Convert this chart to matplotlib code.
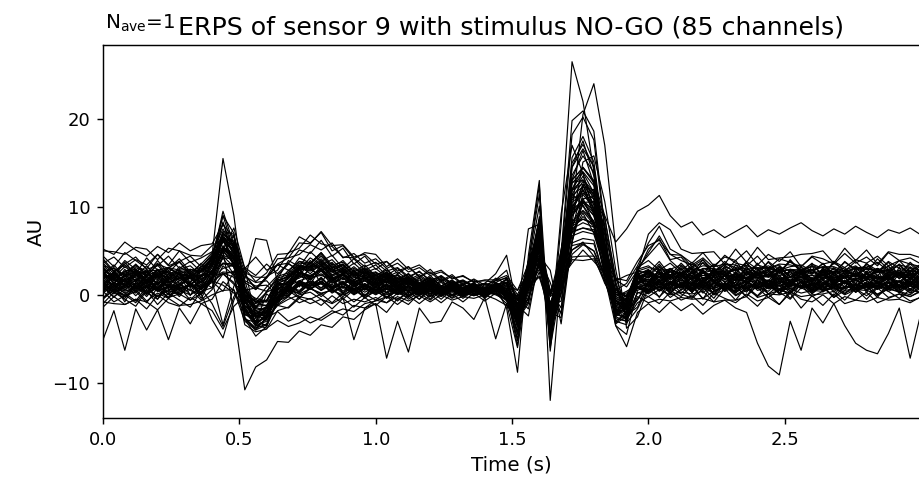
import matplotlib.pyplot as plt
import numpy as np

# sample times (s), one sample every 40 ms
times = np.linspace(0.0, 3.0, 76)

title = 'ERPS of sensor 9 with stimulus NO-GO (85 channels)'
nave = 1

# channel traces (AU), estimated from the figure
# each row: 0.00-0.36 | 0.40-0.96 | 1.00-1.96 | 2.00-3.00
ch01 = [0.6, 2.3, 1.1, 2.7, 1.4, 0.4, 1.9, 2.5, 0.8, 1.6,
        3.1, 6.4, 3.5, -1.3, -2.1, -1.8, 1.2, 0.6, 2.9, 1.7, 3.4, 2.0, 1.1, 2.8, 0.9,
        2.3, 0.7, 1.9, 1.6, 0.2, 1.8, 0.6, 1.3, 0.4, 1.0, 0.3, 1.1, 0.2, -2.4, 2.7, 5.6, -3.4, 3.6, 9.4, 12.5, 9.1, 5.6, -1.9, -0.3, 2.4,
        1.1, 2.9, 1.4, 2.4, 0.6, 2.8, 1.5, 0.9, 2.6, 1.8, 3.1, 1.0, 2.2, 0.7, 2.5, 1.6, 2.9, 1.2, 2.0, 0.8, 2.7, 1.4, 2.3, 1.1, 2.8, 1.5]
ch02 = [-0.4, 1.1, 0.2, -0.7, 0.9, 0.5, -0.3, 1.3, 0.0, 0.7,
        1.4, 2.5, 2.0, -1.9, -2.2, -1.3, -0.2, 1.1, 0.3, 1.4, 0.5, 1.6, 0.2, 1.2, -0.1,
        1.0, -0.3, 0.8, 0.4, -0.5, 0.9, 0.1, 0.6, -0.2, 0.5, 0.2, 0.6, 0.0, -1.1, 0.6, 3.3, -1.8, 0.9, 5.1, 6.0, 4.4, 2.4, -0.7, -1.1, 0.9,
        0.2, 1.4, 0.5, -0.2, 1.1, 0.8, -0.4, 1.3, 0.3, 0.9, -0.1, 1.2, 0.6, 0.1, 1.5, 0.4, 0.9, -0.3, 1.0, 0.6, 1.4, 0.0, 0.8, 1.1, 0.2, 0.7]
ch03 = [3.6, 2.4, 3.9, 2.9, 2.1, 3.5, 3.0, 4.1, 2.6, 3.2,
        4.6, 8.1, 5.3, 0.4, -1.5, 0.3, 2.1, 2.5, 4.2, 3.6, 4.8, 3.1, 3.9, 2.6, 3.4,
        2.1, 3.0, 1.6, 2.4, 1.2, 2.2, 1.0, 1.7, 0.8, 1.3, 0.7, 1.2, 1.4, -2.8, 3.0, 8.6, -3.5, 4.8, 13.1, 16.4, 12.6, 6.8, -1.2, -0.9, 3.1,
        4.5, 5.9, 3.9, 2.8, 3.7, 2.4, 3.5, 2.6, 3.9, 2.2, 3.4, 3.0, 2.5, 3.8, 2.7, 3.3, 2.3, 3.6, 2.9, 2.1, 3.5, 2.8, 3.2, 2.4, 3.7, 2.6]
ch04 = [1.4, 0.3, 1.0, 1.6, 0.2, 0.8, 1.5, 0.5, 1.2, 0.1,
        1.6, 2.4, 1.2, 0.4, -0.9, 0.3, 0.9, -0.1, 1.5, 0.7, 1.6, 0.6, 1.3, 0.2, 1.1,
        0.5, 1.3, 0.2, 1.0, 0.4, 0.9, 0.1, 0.6, 0.3, 0.7, 0.2, 0.5, 0.8, -0.6, 1.3, 2.1, -0.9, 1.9, 3.6, 5.1, 3.8, 2.4, -0.2, 0.4, 1.2,
        0.6, 1.5, 0.3, 1.2, 0.8, 1.7, 0.5, 1.0, 0.2, 1.4, 0.9, 0.4, 1.6, 0.7, 1.1, 0.3, 1.3, 0.8, 0.1, 1.2, 0.6, 1.5, 0.4, 1.0, 1.3, 0.5]
ch05 = [4.4, 3.2, 4.8, 3.9, 3.0, 4.6, 3.4, 5.0, 3.7, 4.2,
        4.9, 6.5, 6.0, 1.4, 0.6, 1.9, 3.4, 3.6, 5.1, 4.7, 6.2, 4.4, 5.3, 3.5, 4.4,
        2.9, 3.8, 2.4, 3.2, 2.0, 2.9, 1.6, 2.3, 1.2, 1.8, 1.1, 1.6, 1.9, -0.6, 3.0, 6.2, -1.3, 4.4, 9.6, 12.0, 9.3, 5.9, 0.5, 1.3, 3.3,
        5.9, 7.8, 5.2, 4.5, 3.6, 4.8, 3.3, 4.3, 3.9, 5.0, 3.4, 4.6, 3.8, 4.9, 3.2, 4.4, 4.1, 3.5, 4.7, 3.6, 4.3, 3.3, 4.8, 3.9, 4.2, 3.5]
ch06 = [2.6, 1.3, 2.2, 1.7, 2.9, 1.1, 2.4, 2.0, 1.4, 2.8,
        4.2, 9.0, 5.1, -2.6, -3.8, -2.7, 0.6, 1.4, 3.3, 2.4, 3.6, 2.2, 2.9, 1.7, 2.6,
        1.3, 2.4, 1.0, 1.9, 0.8, 1.6, 0.6, 1.2, 1.0, 0.5, 0.8, 1.0, 0.4, -3.2, 3.0, 6.5, -4.2, 2.8, 11.9, 12.6, 11.5, 4.4, -2.2, -0.6, 1.3,
        2.8, 1.4, 2.3, 1.9, 3.0, 1.3, 2.6, 2.2, 1.6, 3.1, 1.8, 2.4, 1.2, 2.9, 2.0, 1.5, 2.7, 2.3, 1.4, 2.5, 1.7, 3.0, 1.9, 2.2, 1.3, 2.6]
ch07 = [0.4, -0.8, -0.1, 0.6, -0.7, 0.2, -0.4, 0.9, -0.6, 0.1,
        -2.8, -4.9, -0.6, 2.1, 1.4, 1.6, 0.2, 0.9, -0.3, 0.7, 0.1, 0.6, -0.2, 0.8, -0.4,
        0.6, -0.4, 0.5, -0.2, 0.7, -0.1, 0.4, 0.0, 0.5, -0.1, 0.3, 0.2, -0.5, -3.1, -0.3, 3.6, -2.8, 0.3, 5.9, 6.4, 6.2, 1.8, -2.4, -1.2, 0.8,
        0.1, 1.0, -0.3, 0.6, 0.9, -0.4, 0.4, 1.1, 0.0, 0.7, -0.2, 0.9, 0.3, -0.5, 0.8, 0.2, 1.0, -0.3, 0.5, 0.7, -0.1, 0.9, 0.4, -0.4, 0.6, 0.2]
ch08 = [3.0, 1.9, 2.6, 3.4, 2.1, 2.8, 1.7, 3.2, 2.4, 2.0,
        3.6, 7.2, 6.9, 1.6, -2.4, -2.3, 0.2, 1.2, 3.1, 3.2, 4.4, 3.0, 3.5, 2.2, 2.8,
        1.7, 2.6, 1.4, 2.0, 1.0, 1.7, 0.6, 1.3, 0.5, 1.0, 0.3, 1.0, 1.4, -0.4, -1.6, 4.1, 1.4, -2.2, 6.0, 10.9, 11.2, 8.6, 2.0, -1.6, 1.2,
        2.6, 1.7, 3.0, 2.1, 2.5, 1.5, 2.9, 2.3, 1.9, 2.8, 1.6, 2.4, 3.1, 2.0, 2.7, 1.8, 2.5, 2.9, 1.9, 2.2, 3.0, 1.7, 2.6, 2.3, 2.0, 2.8]
ch09 = [0.9, -0.2, 0.6, 1.4, 0.1, 0.8, -0.3, 1.2, 0.5, 0.0,
        2.1, 5.0, 3.5, -2.2, -3.0, -2.7, -0.2, 0.2, 1.6, 1.0, 1.5, 0.7, 1.4, 0.3, 1.2,
        0.2, 1.2, 0.1, 1.1, 0.0, 0.9, 0.0, 0.8, 0.2, 0.6, 0.0, 0.6, -0.3, -5.0, 2.3, 8.5, -5.6, 3.1, 15.6, 18.0, 15.1, 5.9, -3.2, -2.0, 1.2,
        1.8, 0.5, 1.3, 1.9, 0.6, 1.2, 1.7, 0.4, 1.5, 2.0, 0.9, 1.6, 0.7, 1.3, 1.8, 0.6, 1.4, 1.1, 0.5, 1.7, 1.0, 1.3, 1.9, 0.8, 1.6, 0.7]
ch10 = [1.0, 2.6, 1.5, 0.7, 2.2, 1.9, 0.9, 2.4, 1.2, 2.1,
        2.8, 4.5, 4.0, -0.4, -1.3, -1.2, 1.2, 1.1, 2.4, 2.2, 2.8, 1.7, 2.3, 1.3, 1.9,
        1.2, 1.8, 1.0, 1.5, 0.6, 1.3, 0.4, 1.1, 0.3, 0.9, 0.2, 0.9, 0.3, -1.6, 2.2, 4.5, -1.8, 2.7, 7.1, 9.3, 7.0, 4.0, -1.0, 0.0, 1.9,
        1.5, 2.6, 1.2, 2.4, 1.0, 2.8, 1.4, 2.3, 1.1, 2.6, 1.3, 2.7, 1.5, 1.0, 2.4, 1.4, 2.6, 1.2, 2.3, 1.3, 2.5, 1.1, 2.2, 2.6, 1.2, 2.3]
ch11 = [4.1, 2.7, 3.5, 4.3, 2.9, 3.3, 4.4, 3.0, 3.8, 2.6,
        4.0, 5.4, 4.0, 2.4, 0.6, 2.1, 2.8, 4.8, 5.3, 6.8, 5.8, 5.5, 4.3, 4.2, 3.2,
        3.7, 2.7, 3.1, 2.1, 2.6, 1.7, 2.1, 1.3, 1.6, 1.0, 1.3, 1.0, 1.8, -0.3, 2.4, 4.2, -0.1, 2.4, 7.2, 7.6, 7.4, 4.1, 1.7, 0.9, 2.8,
        4.8, 6.7, 4.6, 4.5, 3.2, 3.6, 2.5, 3.8, 2.7, 3.6, 2.3, 3.8, 2.8, 3.2, 3.4, 2.7, 3.5, 2.4, 3.8, 2.8, 3.1, 3.7, 2.7, 3.9, 2.6, 3.5]
ch12 = [1.5, 0.5, 1.8, 0.9, 0.2, 1.7, 0.8, 1.2, 2.0, 0.6,
        2.6, 6.1, 4.3, -2.0, -3.2, -2.5, 0.2, 0.7, 2.1, 1.7, 2.7, 1.4, 2.0, 1.0, 1.6,
        0.9, 1.5, 0.6, 1.3, 0.4, 1.1, 0.3, 0.9, 0.2, 0.7, 0.1, 0.9, 0.1, -3.5, 2.4, 7.2, -3.7, 2.4, 12.7, 14.0, 12.4, 4.9, -2.3, -1.3, 1.4,
        2.1, 0.8, 1.5, 1.0, 2.5, 1.1, 0.9, 2.2, 0.7, 1.2, 2.4, 0.9, 1.3, 1.8, 1.5, 0.8, 2.0, 1.4, 0.9, 1.9, 1.6, 1.0, 2.1, 0.7, 2.0, 0.9]
ch13 = [2.7, 1.4, 2.2, 2.5, 1.3, 2.9, 1.6, 2.4, 1.5, 2.8,
        3.7, 6.2, 4.8, -0.1, -1.6, -1.6, 1.3, 1.8, 3.2, 2.9, 3.8, 2.6, 3.0, 2.0, 2.5,
        1.6, 2.2, 1.3, 1.9, 1.0, 1.6, 0.7, 1.3, 0.5, 1.1, 0.4, 1.7, 2.8, -1.3, 3.9, 5.5, -2.0, 5.2, 11.5, 10.1, 8.0, 2.4, -1.0, -0.9, 2.3,
        2.9, 1.6, 2.3, 2.6, 1.8, 2.8, 1.7, 3.0, 1.9, 2.4, 2.1, 2.9, 1.8, 2.3, 2.8, 1.7, 3.0, 1.9, 2.5, 2.4, 2.1, 2.6, 2.4, 2.8, 1.7, 3.0]
ch14 = [-0.4, 0.6, 0.0, -0.9, 0.6, -0.2, 0.5, 0.1, -0.6, 0.7,
        -1.0, -3.6, -0.2, 1.6, 1.0, 1.1, 0.0, 0.6, 0.1, 0.7, 0.2, 0.5, 0.0, 0.6, -0.1,
        0.6, 0.0, 0.5, -0.1, 0.6, 0.4, -0.2, 0.5, -0.1, 0.5, -0.2, 0.7, 0.2, -2.0, 1.0, 2.0, -1.8, 0.7, 4.3, 4.4, 4.4, 1.3, -0.7, -1.4, 0.8,
        0.3, 0.9, 0.5, 1.0, -0.3, 1.2, 0.0, 0.6, 1.0, -0.2, 1.1, 0.1, 0.5, 0.7, 0.2, 0.5, 0.4, 0.8, 0.3, 0.6, 0.5, 0.1, 0.7, 0.4, 0.0, 1.0]
ch15 = [1.8, 0.6, 2.2, 0.8, 2.0, 0.5, 1.9, 0.9, 2.1, 0.7,
        4.0, 9.5, 5.7, -2.7, -4.7, -3.6, -0.4, 0.9, 2.5, 2.2, 2.8, 1.6, 2.2, 1.1, 1.7,
        1.0, 1.6, 0.7, 1.4, 0.5, 1.2, 0.3, 1.1, 0.2, 0.9, 0.0, 1.0, 0.1, -3.0, 1.8, 6.2, -2.9, 3.0, 9.8, 12.5, 9.6, 4.7, -2.2, -0.9, 1.6,
        1.2, 2.4, 0.9, 2.2, 1.1, 2.6, 1.3, 1.0, 2.3, 1.2, 2.5, 0.9, 2.2, 1.1, 2.4, 1.3, 1.0, 2.3, 1.2, 2.6, 1.1, 2.2, 0.9, 2.4, 1.3, 1.1]
ch16 = [3.2, 1.8, 2.7, 2.9, 1.6, 2.4, 3.1, 2.8, 2.0, 3.0,
        4.2, 7.1, 5.6, 0.0, -2.0, -1.5, 1.5, 2.1, 3.6, 3.5, 4.6, 3.1, 3.5, 2.3, 2.9,
        1.9, 2.5, 1.5, 2.1, 1.1, 1.7, 0.8, 1.4, 0.5, 1.2, 0.3, 1.3, 0.4, -3.7, 2.8, 8.4, -4.3, 3.2, 14.5, 16.6, 14.6, 5.8, -1.6, -2.3, 2.0,
        2.2, 3.5, 1.9, 3.3, 2.1, 3.7, 2.3, 1.8, 3.4, 2.2, 3.6, 2.0, 3.2, 2.7, 2.9, 2.5, 2.7, 2.6, 3.1, 2.0, 3.6, 2.2, 3.3, 1.8, 3.2, 2.1]
ch17 = [1.1, 0.3, 0.8, 1.7, 0.2, 1.4, 0.6, 0.7, 1.2, 0.8,
        1.8, 4.2, 4.1, -0.6, -2.2, -2.3, -0.3, 0.0, 1.3, 0.9, 1.9, 0.7, 1.3, 0.4, 1.0,
        0.4, 1.0, 0.3, 0.9, 0.2, 0.8, 0.1, 0.7, 0.0, 0.7, -0.1, 0.8, -0.2, -1.5, -0.8, 5.4, -1.0, -2.0, 6.0, 10.5, 10.6, 7.9, 1.2, -1.9, -0.6,
        1.4, 0.6, 1.2, 0.8, 1.0, 0.9, 1.3, 1.1, 1.1, 0.7, 1.2, 1.0, 1.4, 0.2, 1.6, 0.5, 1.7, 0.3, 1.5, 1.0, 1.2, 0.6, 1.7, 0.3, 1.6, 0.5]
ch18 = [2.3, 1.0, 1.8, 2.0, 0.8, 2.2, 1.4, 1.9, 1.1, 2.1,
        2.7, 3.6, 3.5, 0.3, -0.4, -0.7, 1.3, 1.2, 2.5, 2.0, 3.0, 1.8, 2.4, 1.4, 2.0,
        1.1, 1.8, 0.9, 1.6, 0.6, 1.4, 0.4, 1.2, 0.3, 1.0, 0.2, 1.2, 0.3, -1.4, 2.0, 3.8, -1.0, 1.9, 7.1, 7.6, 7.2, 3.0, 0.1, -0.6, 1.9,
        2.4, 1.2, 1.9, 2.2, 1.1, 2.5, 1.5, 2.3, 2.1, 1.8, 2.0, 1.6, 2.9, 1.4, 1.8, 1.7, 2.3, 1.9, 2.1, 1.6, 2.0, 1.8, 2.2, 2.0, 2.3, 1.3]
ch19 = [5.0, 4.9, 4.6, 5.4, 5.2, 4.0, 5.3, 5.0, 4.5, 4.4,
        5.6, 6.4, 6.2, 2.5, 2.0, 2.0, 4.1, 4.2, 5.9, 5.8, 7.2, 5.6, 5.7, 4.3, 4.6,
        3.5, 3.8, 2.7, 3.2, 2.1, 2.6, 1.5, 2.1, 1.1, 1.7, 0.8, 1.9, 1.2, 0.5, 2.5, 5.8, -0.1, 4.2, 8.2, 10.2, 8.3, 5.7, 1.6, 2.2, 2.6,
        6.9, 8.2, 7.4, 5.2, 4.7, 4.8, 4.9, 3.5, 5.2, 3.7, 5.4, 4.0, 4.2, 4.3, 4.6, 4.7, 5.0, 3.6, 5.3, 3.9, 5.1, 3.5, 4.9, 4.6, 4.6, 4.2]
ch20 = [-1.0, 0.3, -0.5, -1.3, 0.5, -1.1, 0.2, -0.6, -1.4, 0.4,
        0.8, 3.3, 2.2, -3.4, -4.2, -3.9, -1.8, -1.4, -0.2, -0.5, 0.1, -0.9, 0.2, -0.8, 0.1,
        -0.6, 0.3, -0.7, 0.4, -0.5, 0.5, -0.5, 0.6, -0.4, 0.5, -0.4, 0.6, -0.7, -3.0, 0.5, 6.2, -4.4, 1.5, 9.7, 10.7, 9.6, 3.5, -2.2, -2.7, 0.3,
        -0.2, 0.6, 0.0, 0.3, 0.1, 0.4, -0.8, 0.7, -0.6, 1.0, -0.3, 0.1, 0.0, 0.3, -0.2, 0.0, 0.1, 0.4, -0.6, 0.7, -0.5, 0.8, -0.3, 0.1, -0.2, 0.4]
ch21 = [2.4, 1.6, 2.1, 2.7, 1.5, 2.2, 2.0, 1.8, 2.8, 1.4,
        3.4, 6.9, 5.7, -0.8, -2.6, -2.0, 1.0, 1.5, 3.0, 2.7, 3.3, 2.1, 2.7, 1.7, 2.3,
        1.4, 2.1, 1.1, 1.8, 0.8, 1.5, 0.6, 1.3, 0.4, 1.1, 0.2, 1.1, 0.4, -0.5, 1.1, 4.3, -1.0, 1.8, 6.7, 7.2, 6.9, 2.9, 0.3, -0.2, 2.0,
        2.6, 1.4, 2.9, 1.6, 2.7, 1.3, 3.0, 1.7, 2.3, 2.0, 2.6, 1.3, 2.9, 1.6, 2.7, 1.4, 3.0, 1.7, 2.3, 2.0, 2.4, 1.8, 2.2, 2.1, 2.5, 1.9]
ch22 = [1.5, 0.2, 1.7, 0.4, 1.8, 0.5, 0.9, 0.8, 1.1, 0.6,
        1.9, 2.6, 2.5, -0.6, -1.0, -1.2, 0.7, 0.4, 1.6, 1.1, 1.8, 0.9, 1.5, 0.6, 1.3,
        0.6, 1.2, 0.5, 1.1, 0.2, 1.0, 0.1, 0.9, 0.0, 0.8, -0.1, 0.9, -0.1, -4.3, 2.6, 7.8, -4.9, 3.5, 15.0, 17.1, 14.5, 5.7, -2.1, -2.6, 1.3,
        0.9, 2.1, 0.7, 1.9, 0.5, 2.0, 0.8, 2.2, 0.6, 1.8, 1.3, 1.5, 1.1, 1.2, 0.9, 2.0, 0.6, 1.8, 1.4, 1.6, 1.1, 1.3, 1.0, 1.5, 1.2, 1.6]
ch23 = [2.6, 2.3, 2.4, 2.1, 3.3, 1.9, 3.0, 2.3, 2.0, 3.2,
        3.6, 5.4, 4.7, 0.4, -0.8, -0.8, 1.7, 2.0, 3.4, 3.1, 4.1, 2.8, 3.3, 2.2, 2.7,
        1.8, 2.4, 1.4, 2.0, 1.1, 1.7, 0.8, 1.4, 0.5, 1.2, 0.3, 1.3, 0.6, -2.5, 3.0, 6.5, -2.6, 3.2, 11.9, 13.1, 11.7, 4.8, -0.4, -1.0, 2.6,
        5.2, 6.4, 4.0, 4.3, 2.8, 3.3, 3.2, 3.5, 3.4, 2.9, 3.1, 3.0, 3.5, 3.4, 3.1, 2.8, 3.2, 3.2, 2.7, 3.8, 2.5, 4.1, 2.9, 3.4, 3.1, 2.8]
ch24 = [0.9, -0.3, 1.2, -0.1, 1.1, -0.5, 1.0, -0.2, 1.3, 0.0,
        2.4, 6.6, 4.8, -2.7, -3.8, -3.3, -0.6, -0.1, 1.2, 0.7, 1.3, 0.3, 1.0, 0.1, 0.8,
        0.1, 0.8, 0.1, 0.7, 0.0, 0.7, 0.0, 0.6, -0.1, 0.6, -0.2, 0.8, -0.2, -1.8, 0.7, 5.0, -2.6, 1.4, 7.5, 8.2, 7.7, 2.6, -1.0, -1.6, 1.0,
        0.5, 1.7, 0.2, 1.5, 0.4, 1.8, 0.1, 1.4, 0.8, 1.1, 0.9, 1.3, 0.2, 1.5, 1.0, 1.2, 0.6, 0.9, 0.8, 1.3, 0.9, 1.1, 0.6, 1.6, 0.2, 1.5]
ch25 = [3.4, 2.1, 3.7, 2.3, 2.7, 2.8, 2.5, 3.8, 2.2, 3.6,
        1.6, -3.4, 1.0, 3.0, 4.3, 2.8, 3.4, 2.8, 3.8, 3.2, 3.9, 2.8, 3.4, 2.4, 3.0,
        2.0, 2.6, 1.7, 2.3, 1.3, 1.9, 1.0, 1.6, 0.7, 1.3, 0.4, 1.4, 0.7, -2.3, 2.6, 6.2, -2.2, 2.9, 10.8, 11.8, 10.9, 4.7, 0.1, -0.6, 2.7,
        3.1, 2.8, 2.9, 3.4, 2.4, 3.0, 3.0, 2.7, 2.8, 3.3, 2.9, 3.1, 2.6, 2.9, 2.8, 3.2, 3.1, 3.0, 2.6, 3.1, 2.9, 2.9, 2.5, 3.5, 2.2, 3.4]
ch26 = [2.0, 0.8, 2.4, 1.0, 2.2, 0.7, 2.1, 0.9, 2.3, 1.1,
        2.8, 5.1, 4.2, -1.3, -2.4, -2.1, 0.7, 1.0, 2.3, 2.0, 2.9, 1.7, 2.2, 1.2, 1.8,
        1.1, 1.7, 0.8, 1.5, 0.6, 1.3, 0.4, 1.1, 0.2, 0.9, 0.1, 1.1, 0.1, -5.2, 3.3, 10.1, -5.8, 4.2, 18.2, 20.2, 17.6, 7.2, -2.7, -3.0, 1.8,
        2.4, 1.1, 2.7, 1.3, 2.5, 1.0, 2.8, 1.4, 2.0, 1.8, 2.3, 1.1, 2.7, 1.3, 2.4, 1.0, 2.6, 1.4, 2.0, 1.7, 2.3, 1.9, 1.9, 1.4, 2.4, 1.2]
ch27 = [1.3, 0.5, 1.1, 0.7, 0.9, 0.9, 1.2, 0.8, 1.0, 0.6,
        2.0, 3.0, 3.4, -0.3, -1.4, -1.9, 0.2, 0.2, 1.4, 1.0, 2.0, 0.8, 1.4, 0.5, 1.2,
        0.5, 1.1, 0.4, 1.0, 0.2, 0.9, 0.1, 0.8, 0.0, 0.7, 0.0, 0.9, 0.2, -1.2, -0.6, 6.2, -1.3, -0.7, 7.4, 12.3, 11.9, 8.8, 1.5, -2.3, -1.4,
        1.5, 1.2, 1.2, 0.9, 1.4, 1.1, 1.1, 0.8, 1.8, 0.5, 1.7, 0.7, 2.0, 0.4, 1.6, 0.6, 1.9, 0.5, 1.7, 0.3, 1.5, 1.0, 1.4, 0.8, 1.2, 0.9]
ch28 = [3.0, 1.7, 2.5, 2.7, 1.6, 2.9, 2.1, 2.6, 1.8, 2.8,
        3.9, 7.0, 5.9, 0.2, -1.8, -1.4, 1.3, 1.9, 3.3, 3.0, 3.7, 2.6, 3.1, 2.1, 2.6,
        1.7, 2.3, 1.4, 2.0, 1.1, 1.7, 0.7, 1.4, 0.5, 1.2, 0.3, 1.2, 0.5, -0.7, 1.6, 5.2, -1.2, 2.2, 8.1, 8.6, 8.2, 3.5, 0.6, -0.1, 2.3,
        2.0, 3.3, 1.8, 3.1, 1.6, 3.0, 2.6, 2.7, 2.1, 2.5, 2.4, 2.8, 2.2, 2.6, 2.5, 2.9, 1.7, 3.1, 1.9, 3.2, 1.6, 2.9, 2.3, 2.6, 2.2, 2.8]
ch29 = [-0.8, -1.0, -1.1, -0.5, -0.8, -1.7, -0.4, -1.2, -1.1, -0.7,
        0.0, 0.5, 0.6, -2.3, -2.4, -2.7, -1.2, -1.5, -0.4, -1.0, -0.5, -1.6, -0.4, -1.4, -0.3,
        -1.2, -0.2, -1.1, -0.1, -1.0, 0.0, -0.9, 0.1, -0.8, 0.2, -0.7, 0.2, -1.0, -3.2, 0.2, 3.7, -4.2, 0.1, 7.8, 8.6, 8.0, 2.4, -2.5, -3.0, -0.2,
        -0.9, -0.5, -0.7, -0.3, -0.5, -0.4, -0.8, -0.6, -0.6, -0.2, -1.3, 0.1, -1.1, 0.2, -1.5, -0.1, -1.2, 0.1, -1.0, -0.6, -0.8, -0.3, -0.6, -0.5, -0.9, -0.2]
ch30 = [2.6, 1.3, 2.9, 1.5, 2.7, 1.2, 2.8, 1.6, 2.2, 2.2,
        4.4, 9.0, 7.0, -1.8, -3.6, -2.8, 0.6, 1.5, 3.0, 2.8, 3.5, 2.3, 2.8, 1.7, 2.3,
        1.5, 2.1, 1.2, 1.8, 0.9, 1.5, 0.6, 1.3, 0.4, 1.1, 0.2, 1.2, 0.3, -3.4, 2.9, 7.5, -3.5, 3.0, 13.1, 14.4, 12.9, 5.4, -1.3, -1.7, 2.2,
        2.0, 2.3, 2.3, 2.5, 2.1, 2.2, 2.2, 2.6, 1.6, 3.2, 1.9, 2.3, 2.2, 2.5, 2.0, 2.2, 2.3, 2.6, 2.1, 2.3, 1.9, 3.0, 1.6, 2.8, 1.8, 2.9]
ch31 = [1.6, 1.2, 1.3, 1.8, 0.6, 2.1, 0.9, 1.2, 1.9, 0.7,
        2.7, 5.2, 4.5, -0.9, -2.2, -1.8, 0.4, 0.8, 2.2, 1.8, 2.4, 1.3, 1.9, 0.9, 1.6,
        0.8, 1.5, 0.6, 1.3, 0.4, 1.1, 0.3, 1.0, 0.1, 0.9, 0.0, 0.9, 0.2, -0.1, 0.8, 2.9, -0.2, 1.1, 4.0, 3.9, 4.1, 1.6, 0.5, -0.2, 1.5,
        1.1, 1.5, 2.1, 0.9, 2.2, 0.8, 2.0, 0.6, 1.8, 1.5, 1.6, 1.1, 1.5, 1.3, 1.7, 1.2, 1.4, 1.8, 1.4, 0.8, 1.9, 0.9, 2.1, 0.7, 1.8, 1.2]
ch32 = [2.1, 1.7, 1.0, 2.3, 0.9, 2.6, 1.2, 2.4, 1.1, 2.2,
        2.4, 2.3, 2.7, 0.5, 0.8, 0.4, 1.8, 1.5, 2.6, 2.1, 3.0, 1.9, 2.5, 1.5, 2.1,
        1.2, 1.9, 0.9, 1.6, 0.7, 1.4, 0.5, 1.2, 0.3, 1.0, 0.2, 1.2, 0.3, -3.6, 2.8, 7.2, -3.9, 2.7, 13.0, 14.5, 12.7, 5.2, -1.6, -2.0, 1.8,
        1.5, 2.7, 1.2, 2.5, 1.3, 2.8, 1.4, 2.6, 1.1, 2.4, 1.9, 2.1, 1.7, 2.0, 2.0, 2.3, 1.1, 2.6, 1.4, 2.4, 1.9, 2.0, 1.7, 2.3, 1.3, 2.6]
ch33 = [3.3, 3.0, 2.2, 3.5, 2.3, 3.9, 2.4, 2.8, 2.9, 2.6,
        4.1, 6.5, 5.4, 0.5, -0.9, -0.7, 1.9, 2.3, 3.8, 3.6, 4.8, 3.4, 3.7, 2.6, 3.1,
        2.2, 2.8, 1.8, 2.4, 1.4, 2.0, 1.0, 1.6, 0.7, 1.4, 0.4, 1.4, 0.7, -2.2, 3.2, 6.5, -2.2, 3.2, 11.3, 12.3, 11.2, 4.8, -0.2, -0.8, 2.7,
        2.5, 3.8, 2.2, 3.6, 2.4, 4.0, 2.3, 3.5, 3.1, 2.9, 2.6, 3.7, 2.4, 4.0, 2.5, 3.6, 2.2, 3.8, 2.6, 3.1, 3.1, 2.5, 3.7, 2.2, 3.5, 2.4]
ch34 = [0.7, 0.4, -0.4, 1.0, -0.2, 1.3, 0.0, 0.3, 1.1, 0.1,
        2.0, 5.6, 4.0, -2.7, -4.0, -3.4, -0.7, -0.2, 1.2, 0.7, 1.3, 0.2, 0.9, 0.0, 0.7,
        0.0, 0.7, 0.0, 0.6, -0.1, 0.6, -0.1, 0.5, -0.2, 0.5, -0.3, 0.7, -0.4, -2.8, 0.9, 6.5, -3.7, 1.7, 10.5, 11.6, 10.4, 3.7, -2.5, -1.4, 0.8,
        0.4, 1.6, 0.1, 1.4, 0.3, 1.7, 0.0, 1.3, 0.7, 1.0, 0.8, 1.2, 0.1, 1.4, 0.9, 1.1, 0.5, 0.8, 0.7, 1.2, 0.8, 1.0, 0.6, 1.1, 0.7, 1.3]
ch35 = [2.2, 1.9, 1.1, 2.4, 1.2, 2.8, 1.5, 1.8, 2.5, 1.3,
        2.7, 3.5, 3.5, 0.0, -0.6, -0.8, 1.3, 1.2, 2.5, 2.1, 3.0, 1.8, 2.4, 1.4, 2.0,
        1.3, 1.9, 1.0, 1.7, 0.7, 1.4, 0.5, 1.2, 0.3, 1.0, 0.2, 1.3, 0.2, -5.8, 3.8, 11.4, -6.4, 4.8, 19.8, 20.9, 18.6, 7.7, -3.0, -3.4, 1.9,
        1.7, 2.0, 2.0, 2.2, 1.8, 1.9, 2.1, 1.5, 2.1, 1.9, 2.4, 1.2, 2.8, 1.4, 2.5, 1.1, 2.7, 1.5, 2.1, 1.8, 2.4, 2.0, 2.0, 1.5, 2.5, 1.3]
ch36 = [1.0, 0.6, -0.1, 1.2, 0.0, 1.5, 0.3, 0.6, 1.3, 0.1,
        1.7, 3.6, 3.2, -1.2, -2.1, -2.0, -0.1, -0.1, 1.1, 0.6, 1.5, 0.4, 1.0, 0.1, 0.9,
        0.2, 0.9, 0.2, 0.8, 0.1, 0.7, 0.0, 0.7, -0.1, 0.6, -0.1, 0.8, -0.2, -1.4, 0.5, 3.8, -1.8, 1.0, 5.6, 5.9, 5.8, 1.9, -0.6, -1.2, 0.9,
        0.5, 0.9, 0.8, 1.1, 0.6, 0.8, 0.7, 1.2, 0.2, 1.7, 0.5, 0.9, 0.6, 1.1, 0.8, 1.0, 0.5, 1.5, 0.1, 1.2, 0.6, 1.0, 0.8, 1.1, 0.5, 1.2]
ch37 = [0.2, 2.8, 1.0, 2.5, 0.1, 2.9, 0.8, 2.6, -0.1, 2.2,
        2.3, 6.5, 3.1, -0.2, -3.1, 0.1, -0.8, 2.6, 0.9, 3.4, 1.2, 3.6, 0.7, 2.9, 0.5,
        2.6, 0.2, 2.4, 0.1, 2.0, -0.2, 1.9, -0.1, 1.4, 0.0, 1.2, 0.1, 1.8, -3.1, 3.3, 7.8, -4.8, 4.0, 12.8, 13.0, 11.3, 3.8, -0.6, -2.1, 2.8,
        0.3, 3.2, 0.6, 3.0, 0.2, 2.9, 0.5, 3.3, 0.4, 2.7, 0.9, 3.1, 0.1, 2.8, 0.7, 3.4, 0.3, 2.6, 0.8, 3.0, 0.2, 2.9, 0.6, 3.2, 0.4, 2.5]
ch38 = [0.3, 1.4, 0.6, 0.2, 1.7, 0.9, 0.1, 1.3, 0.5, 1.6,
        0.8, 4.5, 6.8, 1.0, -3.5, -3.0, -1.1, 0.9, 0.5, 1.6, 0.8, 1.8, 0.4, 1.5, 0.7,
        1.3, 0.2, 1.1, 0.4, 0.9, 0.1, 0.8, 0.5, 0.2, 0.7, 0.3, 0.4, 0.0, -1.2, -2.4, 4.4, 2.8, -3.3, 6.2, 11.5, 12.0, 7.4, 1.0, -2.6, -0.5,
        1.5, 0.4, 1.2, 0.8, 1.6, 0.2, 1.3, 0.6, 1.4, 0.3, 1.7, 0.7, 1.1, 0.5, 1.5, 0.1, 1.2, 0.9, 1.6, 0.4, 1.3, 0.7, 1.0, 0.5, 1.4, 0.8]
ch39 = [3.9, 2.6, 3.4, 2.4, 4.2, 2.8, 3.1, 3.7, 2.5, 3.5,
        4.8, 7.5, 5.1, 0.8, -1.6, 0.4, 1.8, 3.9, 3.2, 4.9, 3.8, 4.5, 3.0, 4.1, 2.8,
        3.4, 2.2, 3.0, 1.9, 2.7, 1.5, 2.2, 1.3, 1.7, 1.0, 1.3, 0.9, 1.8, -1.6, 3.8, 7.3, -2.1, 4.4, 11.0, 12.9, 10.2, 5.3, 0.1, -0.7, 3.1,
        3.9, 2.8, 3.6, 2.5, 3.2, 4.0, 2.7, 3.4, 2.4, 3.8, 2.9, 3.3, 2.6, 3.9, 2.8, 3.5, 3.0, 2.5, 3.7, 2.9, 3.3, 2.6, 3.8, 3.0, 2.7, 3.5]
ch40 = [-0.5, 0.6, -0.2, 0.4, -0.9, 0.8, -0.3, 0.1, 0.7, -0.6,
        0.6, 2.4, 1.4, -1.8, -3.2, -1.5, -0.9, 0.5, -0.4, 0.9, -0.2, 0.8, -0.5, 0.6, -0.3,
        0.4, -0.3, 0.5, -0.5, 0.3, -0.2, 0.4, -0.4, 0.2, -0.1, 0.3, 0.0, -0.6, -4.1, 1.0, 6.6, -5.3, 1.6, 11.4, 13.5, 10.8, 3.6, -3.3, -2.4, 0.2,
        0.6, -0.2, 0.9, 0.1, -0.4, 0.7, 0.3, 1.0, -0.1, 0.5, 0.8, -0.3, 0.6, 0.2, 1.1, -0.2, 0.4, 0.8, 0.0, 0.6, 1.0, -0.1, 0.7, 0.3, -0.2, 0.5]
ch41 = [2.5, 3.1, 1.8, 2.9, 2.2, 3.4, 1.9, 2.7, 2.4, 3.0,
        1.5, 0.4, 2.6, 3.1, 2.2, 3.5, 2.4, 3.6, 2.5, 3.7, 2.8, 3.3, 2.5, 3.0, 2.4,
        2.6, 1.9, 2.3, 1.5, 2.1, 1.3, 1.8, 1.1, 1.5, 0.9, 1.2, 0.8, 1.3, -1.0, 2.5, 5.2, -1.4, 2.9, 8.3, 9.6, 8.4, 4.0, 0.3, -0.2, 2.4,
        2.7, 2.0, 2.9, 2.3, 3.1, 1.9, 2.6, 2.4, 3.0, 1.8, 2.8, 2.2, 3.2, 2.1, 2.5, 2.9, 1.9, 2.7, 2.4, 3.1, 2.0, 2.6, 2.8, 2.2, 3.0, 2.3]
ch42 = [2.4, 0.7, 1.9, 0.4, 2.6, 1.1, 0.3, 2.2, 0.9, 2.7,
        3.5, 8.3, 4.1, -2.8, -3.1, -3.5, 1.0, 0.3, 2.9, 1.2, 3.1, 0.8, 2.6, 0.6, 2.3,
        0.4, 2.1, 0.6, 1.9, 0.2, 1.8, 0.1, 1.5, 0.3, 1.3, -0.1, 1.4, -0.4, -4.4, 1.7, 8.9, -4.1, 2.1, 13.6, 15.8, 13.9, 4.3, -1.5, -2.8, 2.0,
        2.5, 0.8, 2.3, 0.5, 2.8, 1.0, 2.1, 0.6, 2.6, 1.2, 2.4, 0.7, 2.9, 0.9, 2.2, 0.4, 2.7, 1.1, 2.0, 0.6, 2.5, 1.3, 2.3, 0.8, 2.6, 1.0]
ch43 = [3.6, 4.3, 3.1, 4.0, 3.4, 4.6, 3.3, 3.8, 4.4, 3.2,
        4.4, 6.0, 5.2, 2.2, 0.8, 2.0, 3.5, 4.2, 4.6, 5.7, 5.1, 5.9, 4.2, 4.7, 3.6,
        4.1, 3.0, 3.6, 2.6, 3.1, 2.2, 2.6, 1.9, 2.1, 1.5, 1.6, 1.4, 2.0, 0.0, 2.9, 5.1, 0.4, 3.3, 7.4, 8.9, 7.8, 4.9, 1.9, 1.6, 3.8,
        5.6, 6.2, 4.6, 3.9, 3.4, 4.2, 3.1, 4.5, 3.6, 3.3, 4.4, 3.0, 4.1, 3.7, 3.2, 4.3, 3.5, 3.8, 3.1, 4.0, 3.6, 4.4, 3.3, 3.9, 3.5, 3.2]
ch44 = [0.2, 1.1, -0.8, 1.4, 0.3, -0.5, 1.2, 0.0, 1.5, -0.4,
        1.9, 5.4, 3.6, -1.7, -3.0, -1.3, -0.6, 1.0, 0.3, 1.9, 0.6, 2.1, 0.2, 1.7, -0.2,
        1.5, -0.4, 1.3, -0.2, 1.1, -0.5, 0.9, -0.1, 0.7, 0.2, 0.5, 0.3, -0.5, -2.6, 2.1, 6.0, -3.1, 2.5, 10.1, 11.4, 9.9, 4.5, -2.0, -1.6, 0.8,
        1.4, -0.3, 1.6, 0.2, 1.2, -0.5, 1.5, 0.4, 0.9, -0.2, 1.7, 0.1, 1.1, -0.4, 1.3, 0.5, 0.8, -0.1, 1.6, 0.3, 1.0, -0.3, 1.4, 0.2, 1.2, 0.0]
ch45 = [2.3, 3.4, 2.0, 3.1, 2.5, 3.6, 2.1, 2.9, 3.3, 2.2,
        3.2, 5.2, 4.4, 0.8, -0.6, 0.9, 2.2, 3.5, 2.9, 4.2, 3.4, 4.0, 2.7, 3.6, 2.5,
        3.0, 2.0, 2.6, 1.7, 2.3, 1.4, 2.0, 1.2, 1.6, 0.9, 1.3, 2.4, 4.5, -1.8, 7.5, 8.0, -4.5, 9.2, 17.0, 13.8, 9.6, 3.0, -2.0, -0.3, 2.9,
        3.3, 2.4, 3.0, 2.1, 3.5, 2.6, 2.2, 3.2, 2.7, 3.6, 2.3, 2.9, 3.4, 2.0, 3.1, 2.5, 3.6, 2.2, 2.8, 3.3, 2.4, 3.0, 2.6, 3.4, 2.1, 2.9]
ch46 = [-1.4, -0.2, -1.1, -0.5, -1.6, 0.0, -0.9, -1.3, -0.3, -1.0,
        -1.8, -3.9, -1.3, -0.1, -0.8, -0.6, -1.1, -0.2, -0.9, -0.4, -1.2, -0.1, -1.0, -0.5, -0.8,
        -0.3, -0.9, -0.2, -0.7, -0.1, -0.8, 0.0, -0.6, -0.2, -0.4, 0.0, -0.5, -1.2, -2.7, -0.3, 2.6, -3.0, 0.2, 4.6, 5.7, 5.0, 1.5, -2.0, -2.8, -0.9,
        -0.2, -1.0, 0.3, -0.6, -0.1, -1.2, 0.2, -0.4, -0.9, 0.1, -0.7, -0.3, -1.1, 0.4, -0.5, -0.8, 0.0, -1.0, -0.2, -0.6, 0.3, -0.9, -0.4, 0.1, -0.7, -0.3]
ch47 = [1.9, 2.5, 1.4, 2.8, 1.6, 2.3, 2.7, 1.3, 2.4, 1.8,
        2.4, 5.2, 7.6, 3.0, -2.7, -3.6, -0.8, 1.6, 1.9, 2.9, 2.2, 3.0, 1.7, 2.6, 1.9,
        2.3, 1.4, 2.0, 1.1, 1.7, 0.9, 1.4, 0.7, 1.1, 0.5, 0.8, 0.6, 1.0, -1.9, 1.4, 6.1, -2.8, 2.2, 9.3, 10.5, 9.0, 4.7, -1.3, -0.5, 2.1,
        2.4, 1.5, 2.7, 1.9, 2.2, 1.3, 2.8, 1.7, 2.5, 1.4, 2.3, 2.0, 2.6, 1.6, 2.9, 1.8, 2.2, 1.5, 2.7, 2.1, 2.4, 1.3, 2.6, 1.9, 2.3, 1.7]
ch48 = [0.8, 0.1, 1.2, 0.3, 0.9, -0.2, 1.1, 0.5, 0.0, 1.0,
        1.6, 4.4, 3.2, -1.5, -2.5, -1.9, -0.4, 0.6, 0.2, 1.3, 0.5, 1.2, 0.1, 1.0, 0.3,
        0.9, 0.2, 0.7, 0.0, 0.6, 0.1, 0.5, -0.1, 0.4, 0.0, 0.3, 0.1, -0.4, -2.6, -0.8, 5.3, -2.0, -2.6, 8.2, 15.1, 15.8, 10.6, 2.9, -3.2, -1.6,
        0.9, 1.4, 0.6, 1.2, 0.3, 1.5, 0.8, 1.1, 0.4, 1.3, 0.7, 1.6, 0.2, 1.0, 1.4, 0.5, 1.2, 0.8, 1.5, 0.3, 1.1, 0.9, 1.3, 0.6, 1.0, 0.7]
ch49 = [1.2, 2.6, 0.8, 2.2, 1.6, 0.6, 2.4, 1.0, 2.0, 1.4,
        2.6, 4.2, 2.3, -0.4, -1.8, -2.6, -1.9, -3.0, -2.4, -3.2, -2.6, -1.8, -2.3, -1.2, -1.5,
        -0.6, -0.9, 0.2, -0.3, 0.6, 0.2, 0.9, 0.4, 0.7, 0.3, 0.6, 0.8, 0.4, -1.1, 1.5, 3.2, -1.5, 1.9, 5.1, 5.8, 5.0, 2.4, 0.0, 0.2, 1.4,
        1.8, 1.1, 2.3, 0.8, 2.0, 1.4, 2.5, 0.9, 2.1, 1.3, 2.6, 1.0, 1.9, 1.5, 2.4, 0.7, 2.2, 1.2, 2.7, 1.0, 1.8, 1.6, 2.3, 0.9, 2.0, 1.3]
ch50 = [1.0, 2.1, 0.5, 1.8, 1.2, 2.4, 0.7, 1.6, 2.2, 0.9,
        1.6, 1.1, 0.2, -1.4, -3.4, -3.8, -2.9, -3.6, -3.2, -2.5, -2.9, -2.1, -1.6, -1.9, -1.0,
        -0.7, -0.2, -0.5, 0.3, 0.0, 0.6, 0.3, 0.5, 0.8, 0.4, 0.7, 0.5, 0.2, -2.9, 2.6, 7.2, -3.6, 3.0, 12.0, 13.9, 11.6, 5.0, -1.7, -1.4, 1.4,
        1.6, 0.9, 2.1, 1.3, 1.8, 0.7, 2.2, 1.1, 1.9, 1.4, 2.3, 0.8, 1.7, 1.2, 2.0, 1.5, 1.0, 2.1, 1.3, 1.8, 0.9, 2.2, 1.4, 1.6, 1.1, 1.9]
ch51 = [2.9, 2.0, 3.2, 2.3, 2.6, 1.7, 3.0, 2.4, 2.1, 2.8,
        3.4, 6.4, 4.9, 0.6, -1.3, -0.6, 1.4, 2.8, 2.1, 3.9, 2.7, 3.7, 2.3, 3.2, 2.2,
        2.5, 1.8, 2.2, 1.4, 1.9, 1.2, 1.5, 1.0, 1.2, 0.8, 0.9, 0.9, 1.3, -1.5, 2.7, 6.1, -2.2, 3.3, 9.5, 10.7, 9.3, 4.6, -0.6, -0.5, 2.3,
        2.8, 1.9, 2.6, 2.2, 3.0, 1.8, 2.5, 2.3, 2.9, 1.7, 2.4, 2.1, 3.1, 2.0, 2.6, 2.4, 2.8, 1.9, 2.3, 2.7, 2.0, 3.0, 2.2, 2.5, 1.8, 2.7]
# channels that stand out from the bundle
ch52 = [1.8, 2.3, 1.5, 2.6, 1.9, 2.2, 1.4, 2.0, 2.5, 1.7,
        4.5, 15.5, 9.0, -0.5, -3.5, -2.0, 0.5, 2.0, 2.8, 3.3, 3.0, 2.6, 2.2, 2.0, 1.8,
        1.7, 1.5, 1.4, 1.2, 1.1, 1.0, 0.9, 0.8, 0.7, 0.6, 0.6, 0.9, 0.4, -4.5, 3.5, 12.5, -5.5, 8.0, 26.5, 22.0, 14.0, 4.5, -3.0, -2.0, 1.5,
        2.0, 2.6, 1.7, 2.3, 1.9, 2.7, 1.6, 2.1, 2.4, 1.8, 2.2, 2.6, 1.7, 2.0, 2.5, 1.8, 2.3, 1.6, 2.1, 2.4, 1.9, 2.2, 1.7, 2.5, 2.0, 1.8]
ch53 = [1.0, 1.4, 0.8, 1.3, 0.9, 1.5, 1.1, 0.7, 1.2, 1.0,
        2.0, 6.8, 4.8, -0.6, -3.2, -2.3, -0.4, 1.0, 1.6, 2.0, 2.2, 1.8, 1.5, 1.3, 1.1,
        1.2, 1.0, 0.9, 0.8, 0.7, 0.6, 0.6, 0.5, 0.4, 0.4, 0.3, 0.4, 0.2, -2.8, -1.0, 6.5, 0.5, -1.5, 9.5, 20.5, 24.0, 17.0, 5.5, -3.8, -2.5,
        0.8, 1.5, 1.0, 1.7, 1.2, 0.9, 1.6, 1.1, 1.4, 0.8, 1.3, 1.7, 1.0, 1.5, 0.9, 1.2, 1.6, 1.1, 1.4, 0.7, 1.3, 1.5, 1.0, 1.2, 1.6, 1.1]
ch54 = [0.6, 1.2, 0.4, 0.9, 1.3, 0.5, 1.0, 0.7, 1.1, 0.3,
        1.8, 5.0, 3.6, -1.5, -3.3, -2.4, -0.6, 0.6, 1.1, 1.5, 1.3, 1.0, 0.9, 0.7, 0.6,
        0.7, 0.6, 0.6, 0.5, 0.5, 0.4, 0.4, 0.3, 0.3, 0.2, 0.2, 0.8, -1.5, -8.8, 4.5, 13.0, -12.0, 2.5, 14.5, 17.5, 13.5, 5.0, -3.5, -4.5, 0.5,
        1.1, 0.6, 1.4, 0.9, 1.2, 0.5, 1.3, 0.8, 1.0, 1.5, 0.7, 1.1, 0.6, 1.3, 0.9, 1.2, 0.5, 1.0, 1.4, 0.8, 1.1, 0.7, 1.3, 0.9, 1.0, 0.6]
ch55 = [-5.1, -1.8, -6.3, -1.6, -4.0, -1.7, -5.1, -1.5, -3.3, -1.0,
        -0.5, 1.5, 0.5, -3.0, -4.0, -2.5, -1.2, -0.5, 0.0, 0.3, -0.5, -1.0, -0.3, -5.1, -1.5,
        -1.0, -7.2, -3.0, -6.5, -1.5, -3.2, -3.0, -0.8, -1.5, -2.8, -0.3, -5.0, -1.0, -6.0, 2.0, 7.0, -6.0, 1.0, 9.0, 11.0, 8.0, 2.0, -3.5, -5.9, -2.0,
        -1.0, -2.0, -0.8, -1.8, -1.0, -2.2, -1.2, -0.6, -1.5, -2.0, -5.5, -8.1, -9.1, -3.0, -6.3, -1.5, -3.2, -1.0, -3.5, -5.5, -6.3, -6.7, -4.4, -1.5, -7.2, -2.0]
ch56 = [0.5, 1.0, 0.2, 0.8, 1.3, 0.4, 0.9, 0.3, 1.1, 0.6,
        2.0, 5.0, -2.0, -10.8, -8.2, -7.4, -5.3, -5.4, -4.1, -4.6, -3.4, -3.7, -2.5, -2.8, -1.7,
        -1.0, -2.0, -0.4, -1.1, 0.2, -0.6, 0.5, -0.3, 0.6, 0.1, 0.4, 0.8, 0.2, -2.5, 1.5, 5.0, -3.0, 2.0, 8.0, 9.5, 8.0, 3.5, -1.5, -1.0, 0.8,
        1.2, 0.8, 1.5, 1.0, 1.3, 0.7, 1.4, 0.9, 1.1, 1.6, 0.8, 1.2, 1.0, 1.5, 0.7, 1.3, 0.9, 1.1, 1.4, 0.8, 1.2, 1.0, 1.5, 0.9, 1.1, 1.3]
ch57 = [5.2, 4.6, 6.0, 5.1, 4.4, 5.5, 4.8, 5.9, 5.0, 5.6,
        5.8, 8.0, 6.5, 3.0, 1.5, 2.5, 4.6, 4.7, 6.6, 5.9, 7.1, 5.0, 5.6, 4.1, 4.8,
        4.6, 3.2, 4.1, 2.9, 3.4, 2.4, 2.8, 1.8, 2.2, 1.4, 1.7, 1.7, 2.2, 0.5, 3.5, 7.0, 0.0, 5.0, 12.0, 14.5, 13.0, 9.0, 6.0, 7.5, 9.5,
        10.2, 11.3, 9.0, 7.7, 8.3, 6.8, 7.4, 6.5, 7.2, 7.9, 6.6, 7.4, 6.9, 7.6, 8.2, 7.3, 6.7, 7.5, 6.9, 7.8, 7.1, 6.5, 7.4, 7.0, 7.6, 6.8]
ch58 = [2.5, 3.0, 2.2, 3.3, 2.7, 2.1, 3.1, 2.4, 2.9, 2.6,
        3.3, 6.2, 4.0, 1.8, 6.4, 6.2, 1.5, 2.2, 3.0, 3.5, 3.2, 2.8, 2.6, 2.3, 2.0,
        1.9, 1.7, 1.6, 1.4, 1.3, 1.2, 1.0, 0.9, 0.8, 0.7, 0.7, 0.9, 1.1, -1.4, 2.4, 5.6, -2.0, 3.0, 9.0, 10.5, 9.0, 4.5, -0.4, -0.2, 2.0,
        2.6, 2.1, 2.9, 2.4, 3.2, 2.5, 2.8, 2.2, 3.0, 2.7, 2.3, 3.1, 2.6, 2.9, 2.4, 2.7, 3.2, 2.5, 2.8, 2.3, 3.0, 2.6, 2.9, 2.4, 2.7, 2.5]

channels = [ch01, ch02, ch03, ch04, ch05, ch06, ch07, ch08, ch09, ch10,
            ch11, ch12, ch13, ch14, ch15, ch16, ch17, ch18, ch19, ch20,
            ch21, ch22, ch23, ch24, ch25, ch26, ch27, ch28, ch29, ch30,
            ch31, ch32, ch33, ch34, ch35, ch36, ch37, ch38, ch39, ch40,
            ch41, ch42, ch43, ch44, ch45, ch46, ch47, ch48, ch49, ch50,
            ch51, ch52, ch53, ch54, ch55, ch56, ch57, ch58]

fig = plt.figure(figsize=(919 / 130, 483 / 130), dpi=130)
ax = fig.add_axes([103 / 919, 65 / 483, 817 / 919, 373 / 483])

for y in channels:
    n = min(len(y), len(times))
    ax.plot(times[:n], y[:n], color='k', lw=0.65)

ax.set_xlim(0, 2.996)
ax.set_ylim(-14, 28.4)
ax.set_xticks([0.0, 0.5, 1.0, 1.5, 2.0, 2.5])
ax.set_yticks([-10, 0, 10, 20])
ax.set_xlabel('Time (s)', fontsize=11)
ax.set_ylabel('AU', fontsize=11)
ax.set_title(title, fontsize=14)
ax.annotate(r'N$_{\mathrm{ave}}$=%d' % nave, xy=(0, 1), xycoords='axes fraction',
            xytext=(1, 9), textcoords='offset points', ha='left', va='baseline',
            fontsize=11)

fig.savefig('out.png', dpi=130)
